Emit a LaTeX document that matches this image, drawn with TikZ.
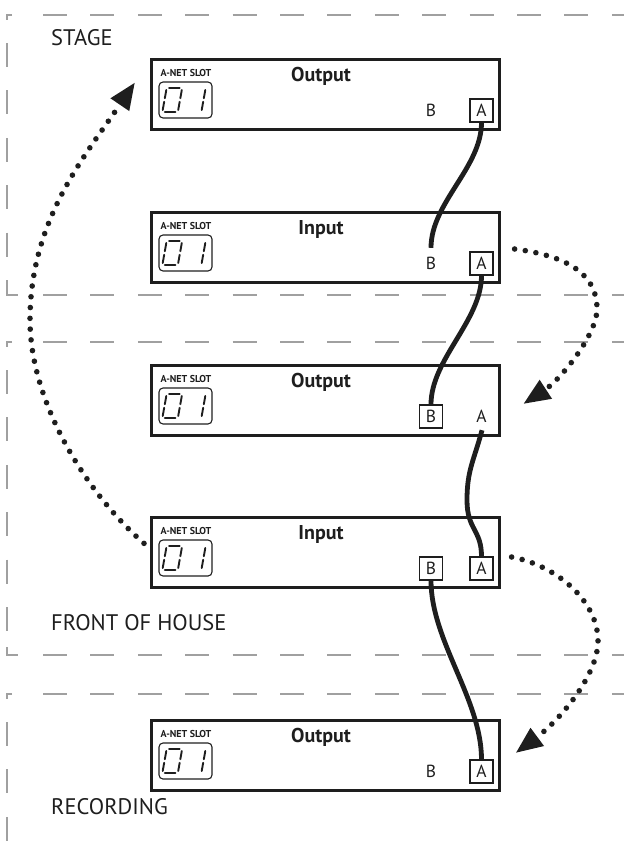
\documentclass[tikz,border=0pt]{standalone}
\usepackage{fontspec}
\setmainfont{PT Sans}
\usetikzlibrary{arrows.meta,calc}
\definecolor{dashgray}{RGB}{160,160,160}
\definecolor{ink}{RGB}{30,30,30}
\tikzset{
  region/.style={draw=dashgray, line width=1.3pt, dash pattern=on 24pt off 23.4pt},
  corner/.style={draw=dashgray, line width=1.3pt},
  devbox/.style={draw=ink, line width=2.7pt, minimum width=348pt, minimum height=70pt, inner sep=0pt},
  disp/.style={draw=ink, line width=1.1pt, rounded corners=4pt, minimum width=53pt, minimum height=36pt, inner sep=0pt},
  seg/.style={draw=ink, line width=1.9pt, line cap=round},
  slot/.style={font=\fontsize{10}{11}\selectfont\bfseries, inner sep=0pt, text=ink},
  title/.style={font=\fontsize{20}{22}\selectfont\bfseries, inner sep=0pt, anchor=base, text=ink},
  port/.style={font=\fontsize{17.5}{19}\selectfont, minimum width=23pt, minimum height=23pt, inner sep=0pt, text=ink},
  portbox/.style={port, draw=ink, line width=1.2pt},
  regionlabel/.style={font=\fontsize{22.5}{25}\selectfont, anchor=base west, inner sep=0pt, text=ink},
  cable/.style={line width=4.8pt, draw=ink},
  dotarrow/.style={line width=5.6pt, line cap=round, dash pattern=on 0pt off 10.8pt, draw=ink,
    -{Triangle[length=27pt,width=21pt]}},
}
\newcommand\mydev[5]{%
  \node[devbox, anchor=north west] (#1) at (150,#2) {};
  \node[slot] (#1-slot) at ($(#1.north west)+(36,14.5)$) {A-NET SLOT};
  \node[disp] (#1-disp) at ($(#1.north west)+(35.5,42)$) {};
  \begin{scope}[shift={(#1-disp.center)}, xslant=0.18]
    \draw[seg] (-18.5,-12)--(-8,-12) (-21,-10)--(-21,-1.8) (-5.5,-10)--(-5.5,-1.8)
      (-21,1.8)--(-21,10) (-5.5,1.8)--(-5.5,10) (-18.5,12)--(-8,12)
      (18,-10)--(18,-1.8) (18,1.8)--(18,10);
  \end{scope}
  \node[title] (#1-title) at ($(#1.north west)+(171,23)$) {#3};
  \node[#4] (#1-B) at ($(#1.north west)+(281,52.5)$) {B};
  \node[#5] (#1-A) at ($(#1.north west)+(331.5,52.5)$) {A};
}
\begin{document}
\begin{tikzpicture}[x=1pt,y=-1pt]
\useasboundingbox (0,0) rectangle (624,857);
% STAGE region
\draw[corner] (12,15)--(7,15)--(7,20);
\draw[region] (43,15)--(624,15);
\draw[region] (7,43)--(7,295);
\draw[corner] (7,287)--(7,295)--(18,295);
\draw[region] (43,295)--(624,295);
\node[regionlabel] (stage) at (51,45) {STAGE};
% FOH region
\draw[corner] (12,342)--(7,342)--(7,347);
\draw[region] (43,342)--(624,342);
\draw[region] (7,370)--(7,635);
\draw[corner] (7,647)--(7,655)--(18,655);
\draw[region] (43,655)--(624,655);
\node[regionlabel] (foh) at (51,630) {FRONT OF HOUSE};
% RECORDING region
\draw[corner] (12,694)--(7,694)--(7,699);
\draw[region] (43,694)--(624,694);
\draw[region] (7,722)--(7,857);
\node[regionlabel] (rec) at (51,814) {RECORDING};

% devices
\mydev{s1}{58}{Output}{port}{portbox}
\mydev{s2}{211}{Input}{port}{portbox}
\mydev{f1}{364}{Output}{portbox}{port}
\mydev{f2}{516}{Input}{portbox}{portbox}
\mydev{r1}{719}{Output}{port}{portbox}

% cables
\draw[cable] (s1-A.south) .. controls +(0,45) and +(0,-45) .. ($(s2-B.north)+(0,-4)$);
\draw[cable] (s2-A.south) .. controls +(0,45) and +(0,-45) .. (f1-B.north);
\coordinate (c3m) at (467,500);
\draw[cable] ($(f1-A.south)+(0.5,2)$) .. controls +(-8,30) and +(0,-30) .. (c3m)
   .. controls +(0,30) and +(0,-27) .. (f2-A.north);
\draw[cable] (f2-B.south) .. controls +(0,60) and +(0,-60) .. (r1-A.north);

% dotted arrows
\coordinate (l0) at ($(f2.west)+(-6,-9)$);
\coordinate (l1) at (30,320);
\coordinate (l2) at ($(s1.west)+(-15,-12)$);
\draw[dotarrow] (l0) .. controls (84,491) and (30,400) .. (l1) .. controls (30,220) and (85,156) .. (l2);

\coordinate (a0) at ($(s2-A.east)+(21,-14.5)$);
\coordinate (a1) at (597,309);
\coordinate (a2) at ($(f1-A.east)+(30,-12.5)$);
\draw[dotarrow] (a0) .. controls (560,255) and (597,270) .. (a1) .. controls (597,335) and (560,380) .. (a2);

\coordinate (b0) at ($(f2-A.east)+(18,-11.5)$);
\coordinate (b1) at (598,641);
\coordinate (b2) at ($(r1-A.east)+(22,-18.5)$);
\draw[dotarrow] (b0) .. controls (555,565) and (598,600) .. (b1) .. controls (598,675) and (560,720) .. (b2);
\end{tikzpicture}
\end{document}
